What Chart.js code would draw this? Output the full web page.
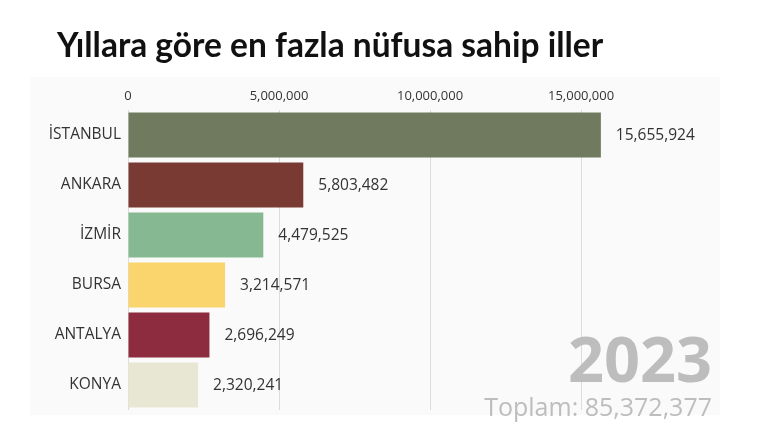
<!DOCTYPE html>
<html>
<head>
<meta charset="utf-8">
<script src="https://cdn.jsdelivr.net/npm/chart.js@4"></script>
<style>
  html, body { margin: 0; padding: 0; background: #fff; }
  #wrap { position: relative; width: 760px; height: 430px; }
  #wrap h1 {
    position: absolute; left: 57px; top: 24px; margin: 0;
    font: bold 33.5px/40px Lato, sans-serif; color: #111; white-space: nowrap;
  }
  #chart { position: absolute; left: 0; top: 0; }
</style>
</head>
<body>
<div id="wrap">
  <canvas id="chart" width="760" height="430"></canvas>
  <h1 id="title"></h1>
</div>
<script>
const titleText = 'Yıllara göre en fazla nüfusa sahip iller'
const cities = ['İSTANBUL', 'ANKARA', 'İZMİR', 'BURSA', 'ANTALYA', 'KONYA']
const population = [15655924, 5803482, 4479525, 3214571, 2696249, 2320241]
const barColors = ['#6f7a5e', '#7a3a34', '#86b992', '#fad56d', '#8c2c3e', '#e8e7d3']
const xTicks = [0, 5000000, 10000000, 15000000]
const yearLabel = '2023'
const totalLabel = 'Toplam: 85,372,377'

document.getElementById('title').textContent = titleText

const fmt = (v) => v.toLocaleString('en-US')

// faint panel behind the plot
const panelBg = {
  id: 'panelBg',
  beforeDraw(chart) {
    const { ctx } = chart
    ctx.save()
    ctx.fillStyle = '#fafafa'
    ctx.fillRect(30, 77, 690, 338)
    ctx.restore()
  },
}

// number at the end of each bar
const valueLabels = {
  id: 'valueLabels',
  afterDatasetsDraw(chart) {
    const { ctx } = chart
    const meta = chart.getDatasetMeta(0)
    ctx.save()
    ctx.font = '15.5px "Open Sans", sans-serif'
    ctx.fillStyle = '#333'
    ctx.textBaseline = 'middle'
    ctx.textAlign = 'left'
    meta.data.forEach((bar, i) => {
      ctx.fillText(fmt(population[i]), bar.x + 15, bar.y + 1)
    })
    ctx.restore()
  },
}

// year + total, bottom right
const yearStamp = {
  id: 'yearStamp',
  afterDraw(chart) {
    const { ctx, chartArea } = chart
    ctx.save()
    ctx.fillStyle = '#bdbdbd'
    ctx.textAlign = 'right'
    ctx.textBaseline = 'alphabetic'
    ctx.font = 'bold 63px "Open Sans", sans-serif'
    ctx.fillText(yearLabel, chartArea.right - 8, 382)
    ctx.font = '25px "Open Sans", sans-serif'
    ctx.fillText(totalLabel, chartArea.right - 8, 416)
    ctx.restore()
  },
}

new Chart(document.getElementById('chart'), {
  type: 'bar',
  data: {
    labels: cities,
    datasets: [
      {
        data: population,
        backgroundColor: barColors,
        borderWidth: 0,
        categoryPercentage: 1,
        barPercentage: 0.9,
      },
    ],
  },
  options: {
    indexAxis: 'y',
    responsive: false,
    animation: false,
    devicePixelRatio: 1,
    layout: { padding: { left: 0, right: 40, top: 74, bottom: 20 } },
    plugins: {
      legend: { display: false },
      tooltip: { enabled: false },
      title: { display: false },
    },
    scales: {
      x: {
        position: 'top',
        min: 0,
        max: 19600000,
        afterBuildTicks: (scale) => {
          scale.ticks = xTicks.map((v) => ({ value: v }))
        },
        afterFit: (scale) => {
          scale.height = 36
        },
        border: { display: false },
        grid: { color: '#dcdcdc', lineWidth: 1, drawTicks: false },
        ticks: {
          color: '#333',
          padding: 6,
          font: { family: 'Open Sans', size: 13 },
          callback: (v) => fmt(v),
        },
      },
      y: {
        afterFit: (scale) => {
          scale.width = 128
        },
        border: { display: false },
        grid: { display: false, drawTicks: false },
        ticks: {
          color: '#333',
          padding: 7,
          font: { family: 'Open Sans', size: 15.5 },
        },
      },
    },
  },
  plugins: [panelBg, valueLabels, yearStamp],
})
</script>
</body>
</html>
